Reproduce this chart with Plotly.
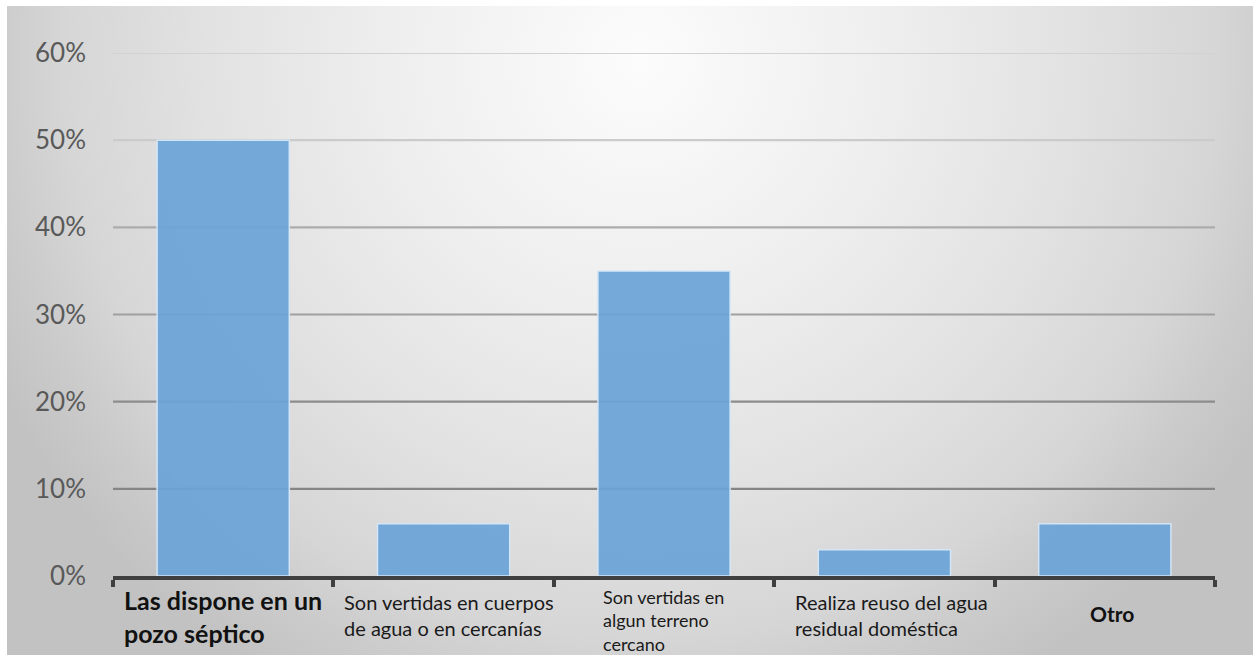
import base64
import plotly.graph_objects as go

# Data
categories = [
    "Las dispone en un pozo séptico",
    "Son vertidas en cuerpos de agua o en cercanías",
    "Son vertidas en algun terreno cercano",
    "Realiza reuso del agua residual doméstica",
    "Otro",
]
label_lines = [
    ["Las dispone en un", "pozo séptico"],
    ["Son vertidas en cuerpos", "de agua o en cercanías"],
    ["Son vertidas en", "algun terreno", "cercano"],
    ["Realiza reuso del agua", "residual doméstica"],
    ["Otro"],
]
values = [0.50, 0.06, 0.35, 0.03, 0.06]
y_ticks = [0.0, 0.1, 0.2, 0.3, 0.4, 0.5, 0.6]
y_tick_text = ["0%", "10%", "20%", "30%", "40%", "50%", "60%"]

W, H = 1253, 655
ML, MR, MT, MB = 113, 38, 53, 79

# Radial grey background drawn as an SVG image behind the whole figure
svg = f"""<svg xmlns='http://www.w3.org/2000/svg' width='{W}' height='{H}' viewBox='0 0 {W} {H}'>
<defs>
<radialGradient id='g' gradientUnits='userSpaceOnUse' cx='640' cy='60' r='720'>
<stop offset='0' stop-color='#fcfcfc'/>
<stop offset='0.35' stop-color='#eeeeee'/>
<stop offset='0.6' stop-color='#e2e2e2'/>
<stop offset='0.8' stop-color='#d6d6d6'/>
<stop offset='0.9' stop-color='#cbcbcb'/>
<stop offset='1' stop-color='#c2c2c2'/>
</radialGradient>
</defs>
<rect x='0' y='0' width='{W}' height='{H}' fill='#ffffff'/>
<rect x='7' y='6' width='{W - 7}' height='{H - 6}' fill='url(#g)'/>
</svg>"""
bg_uri = "data:image/svg+xml;base64," + base64.b64encode(svg.encode()).decode()

pw, ph = W - ML - MR, H - MT - MB

fig = go.Figure()
fig.add_trace(
    go.Bar(
        x=categories,
        y=values,
        marker=dict(color="#6ca4d8", line=dict(color="#d4e7f8", width=1.5)),
        opacity=0.93,
        hoverinfo="skip",
    )
)

# Horizontal gridlines, lighter toward the top
grid_colors = ["rgba(0,0,0,0)", "#858585", "#8c8c8c", "#a0a0a0", "#acacac", "#cbcbcb", "#d2d2d2"]
shapes = []
for yv, col in zip(y_ticks, grid_colors):
    shapes.append(
        dict(type="line", xref="paper", yref="y", x0=0, x1=1, y0=yv, y1=yv,
             line=dict(color=col, width=2.2), layer="below")
    )

# Category labels: one left-aligned block under each category
FONT = "Lato, 'Open Sans', sans-serif"
label_fonts = [
    dict(size=25, weight="bold", color="#111111"),
    dict(size=20, weight="normal", color="#1a1a1a"),
    dict(size=18, weight="normal", color="#1a1a1a"),
    dict(size=20, weight="normal", color="#1a1a1a"),
    dict(size=21, weight="bold", color="#111111"),
]
label_left = [-101, -102, -63, -91, -17]      # px from category centre
label_top = [7, 12, 8, 12, 23]                # px below the axis to the block top
annotations = []
for cat, lines, fnt, xl, yt in zip(categories, label_lines, label_fonts, label_left, label_top):
    annotations.append(
        dict(x=cat, xref="x", y=0, yref="paper", text="<br>".join(lines), showarrow=False,
             xanchor="left", yanchor="top", align="left", xshift=xl, yshift=-yt,
             font=dict(family=FONT, **fnt))
    )

fig.update_layout(
    width=W,
    height=H,
    margin=dict(l=ML, r=MR, t=MT, b=MB, pad=0),
    paper_bgcolor="rgba(0,0,0,0)",
    plot_bgcolor="rgba(0,0,0,0)",
    bargap=0.4,
    showlegend=False,
    shapes=shapes,
    annotations=annotations,
    images=[
        dict(source=bg_uri, xref="paper", yref="paper",
             x=-ML / pw, y=1 + MT / ph, sizex=W / pw, sizey=H / ph,
             xanchor="left", yanchor="top", sizing="stretch", layer="below")
    ],
    xaxis=dict(
        showgrid=False,
        showticklabels=False,
        showline=True,
        linecolor="#3f3f3f",
        linewidth=3.5,
        ticks="outside",
        tickson="boundaries",
        ticklen=7,
        tickwidth=3.5,
        tickcolor="#3f3f3f",
        zeroline=False,
        fixedrange=True,
    ),
    yaxis=dict(
        range=[0, 0.6],
        tickvals=y_ticks,
        ticktext=y_tick_text,
        showgrid=False,
        zeroline=False,
        showline=False,
        ticks="",
        ticklabelstandoff=26,
        tickfont=dict(family=FONT, size=26, color="#595959"),
        fixedrange=True,
    ),
)

fig.write_html("out.html", config={"displayModeBar": False})
